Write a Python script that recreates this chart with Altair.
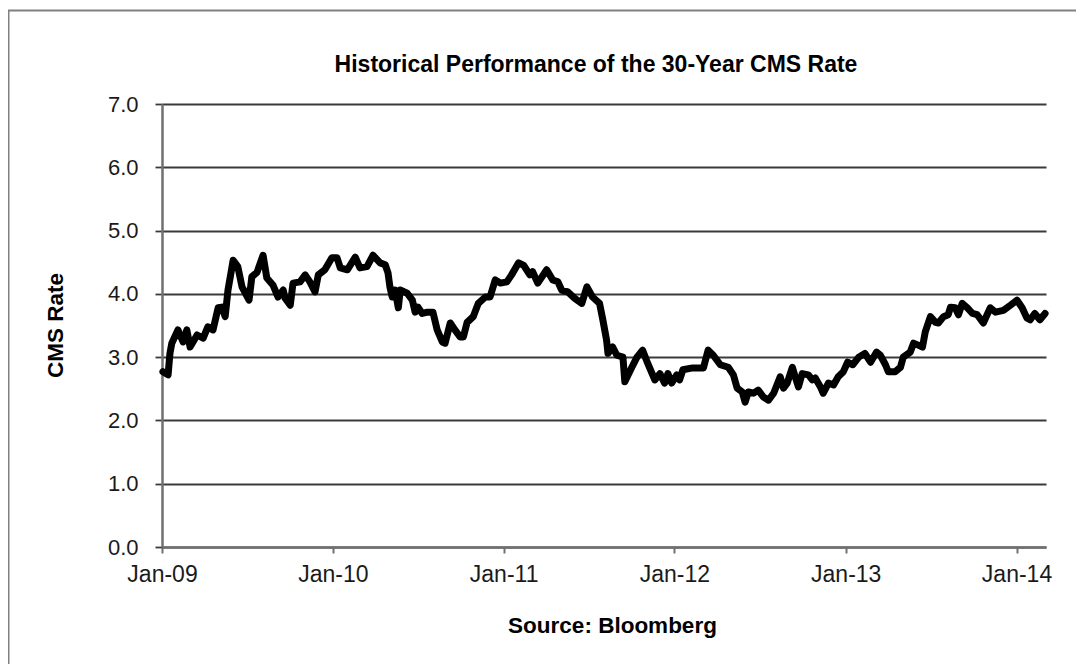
import altair as alt
import pandas as pd

# ---- data ----
dates = [
    "2009-01-03", "2009-01-14", "2009-01-18", "2009-01-22", "2009-02-04", "2009-02-15",
    "2009-02-23", "2009-03-02", "2009-03-17", "2009-03-30", "2009-04-09", "2009-04-20",
    "2009-05-01", "2009-05-09", "2009-05-16", "2009-05-22", "2009-06-02", "2009-06-12",
    "2009-06-21", "2009-07-06", "2009-07-12", "2009-07-23", "2009-08-05", "2009-08-13",
    "2009-08-26", "2009-09-06", "2009-09-17", "2009-09-21", "2009-10-02", "2009-10-08",
    "2009-10-23", "2009-11-03", "2009-11-13", "2009-11-24", "2009-12-01", "2009-12-15",
    "2009-12-30", "2010-01-10", "2010-01-17", "2010-02-01", "2010-02-18", "2010-02-28",
    "2010-03-15", "2010-03-28", "2010-04-12", "2010-04-23", "2010-04-29", "2010-05-03",
    "2010-05-08", "2010-05-14", "2010-05-21", "2010-05-25", "2010-06-09", "2010-06-20",
    "2010-06-26", "2010-07-02", "2010-07-11", "2010-07-22", "2010-08-03", "2010-08-12",
    "2010-08-23", "2010-08-29", "2010-09-09", "2010-09-19", "2010-09-30", "2010-10-07",
    "2010-10-15", "2010-10-28", "2010-11-08", "2010-11-23", "2010-12-03", "2010-12-14",
    "2010-12-25", "2011-01-08", "2011-01-18", "2011-02-02", "2011-02-13", "2011-02-26",
    "2011-03-04", "2011-03-15", "2011-04-03", "2011-04-16", "2011-04-27", "2011-05-05",
    "2011-05-18", "2011-06-02", "2011-06-17", "2011-06-28", "2011-07-10", "2011-07-25",
    "2011-08-01", "2011-08-09", "2011-08-12", "2011-08-22", "2011-08-31", "2011-09-13",
    "2011-09-17", "2011-10-02", "2011-10-13", "2011-10-25", "2011-11-05", "2011-11-20",
    "2011-12-01", "2011-12-11", "2011-12-18", "2011-12-26", "2012-01-06", "2012-01-12",
    "2012-01-19", "2012-02-09", "2012-03-03", "2012-03-13", "2012-03-24", "2012-04-08",
    "2012-04-25", "2012-05-06", "2012-05-14", "2012-05-25", "2012-05-31", "2012-06-07",
    "2012-06-18", "2012-06-28", "2012-07-09", "2012-07-20", "2012-07-31", "2012-08-14",
    "2012-08-21", "2012-08-29", "2012-09-09", "2012-09-15", "2012-09-22", "2012-09-30",
    "2012-10-13", "2012-10-22", "2012-10-28", "2012-11-08", "2012-11-14", "2012-11-25",
    "2012-12-06", "2012-12-16", "2012-12-27", "2013-01-05", "2013-01-16", "2013-01-29",
    "2013-02-11", "2013-02-23", "2013-03-08", "2013-03-16", "2013-03-27", "2013-04-02",
    "2013-04-17", "2013-04-28", "2013-05-04", "2013-05-19", "2013-05-26", "2013-06-05",
    "2013-06-14", "2013-06-20", "2013-07-01", "2013-07-12", "2013-07-18", "2013-07-29",
    "2013-08-08", "2013-08-13", "2013-08-23", "2013-08-30", "2013-09-07", "2013-09-18",
    "2013-09-29", "2013-10-09", "2013-10-22", "2013-11-06", "2013-11-17", "2013-12-04",
    "2013-12-19", "2014-01-02", "2014-01-13", "2014-01-23", "2014-01-30", "2014-02-09",
    "2014-02-20", "2014-03-03",
]

cms_rate = [
    2.77, 2.72, 3.06, 3.22, 3.43, 3.24,
    3.43, 3.16, 3.35, 3.30, 3.48, 3.43,
    3.78, 3.79, 3.64, 4.06, 4.53, 4.43,
    4.11, 3.90, 4.27, 4.34, 4.61, 4.25,
    4.14, 3.95, 4.06, 3.93, 3.82, 4.17,
    4.19, 4.30, 4.19, 4.03, 4.30, 4.38,
    4.57, 4.57, 4.41, 4.38, 4.58, 4.41,
    4.43, 4.61, 4.49, 4.46, 4.33, 4.11,
    3.95, 4.06, 3.78, 4.06, 4.01, 3.90,
    3.71, 3.79, 3.69, 3.71, 3.71, 3.43,
    3.24, 3.22, 3.54, 3.43, 3.32, 3.32,
    3.55, 3.64, 3.85, 3.95, 3.95, 4.22,
    4.17, 4.19, 4.30, 4.49, 4.45, 4.30,
    4.35, 4.17, 4.38, 4.22, 4.19, 4.06,
    4.03, 3.93, 3.85, 4.11, 3.95, 3.85,
    3.59, 3.27, 3.06, 3.16, 3.03, 3.00,
    2.61, 2.84, 3.00, 3.11, 2.90, 2.64,
    2.74, 2.59, 2.74, 2.59, 2.72, 2.64,
    2.80, 2.83, 2.83, 3.11, 3.03, 2.88,
    2.84, 2.72, 2.51, 2.45, 2.29, 2.45,
    2.43, 2.48, 2.37, 2.32, 2.43, 2.69,
    2.51, 2.59, 2.84, 2.69, 2.53, 2.74,
    2.72, 2.64, 2.67, 2.53, 2.43, 2.59,
    2.56, 2.69, 2.77, 2.92, 2.88, 3.00,
    3.06, 2.92, 3.08, 3.03, 2.88, 2.77,
    2.77, 2.84, 3.00, 3.08, 3.22, 3.19,
    3.16, 3.40, 3.64, 3.55, 3.54, 3.64,
    3.67, 3.79, 3.78, 3.67, 3.85, 3.78,
    3.69, 3.67, 3.54, 3.78, 3.71, 3.74,
    3.82, 3.90, 3.78, 3.62, 3.59, 3.69,
    3.59, 3.69,
]

tick_years = [2009, 2010, 2011, 2012, 2013, 2014]
y_ticks = [0, 1, 2, 3, 4, 5, 6, 7]

title_text = "Historical Performance of the 30-Year CMS Rate"
y_title = "CMS Rate"
x_title = "Source: Bloomberg"

df = pd.DataFrame({"date": dates, "rate": cms_rate})

FONT = "Liberation Sans"

x_axis = alt.Axis(
    values=[alt.DateTime(year=y, month=1, date=1) for y in tick_years],
    format="%b-%y",
    grid=False,
    domainColor="#707070",
    domainWidth=2.5,
    tickColor="#707070",
    tickWidth=2,
    tickSize=6,
    labelFont=FONT,
    labelFontSize=23,
    labelColor="#1a1a1a",
    labelPadding=10,
    labelFlush=False,
    labelOverlap=False,
    title=x_title,
    titleFont=FONT,
    titleFontSize=22.5,
    titleFontWeight="bold",
    titleColor="#000000",
    titleX=450,
    titleY=78,
    titleAlign="center",
    titleBaseline="middle",
)

y_axis = alt.Axis(
    values=y_ticks,
    format=".1f",
    grid=True,
    gridColor="#3a3a3a",
    gridWidth=1.8,
    domainColor="#707070",
    domainWidth=2.5,
    tickColor="#3a3a3a",
    tickWidth=1.8,
    tickSize=7,
    labelFont=FONT,
    labelFontSize=22,
    labelColor="#1a1a1a",
    labelPadding=17,
    title=y_title,
    titleFont=FONT,
    titleFontSize=22.5,
    titleFontWeight="bold",
    titleColor="#000000",
    titleAngle=270,
    titleX=-107,
    titleY=221,
    titleAlign="center",
    titleBaseline="middle",
)

line = alt.Chart(df).mark_line(
    color="#000000", strokeWidth=7, strokeJoin="round", strokeCap="round"
).encode(
    x=alt.X(
        "date:T",
        axis=x_axis,
        scale=alt.Scale(
            domain=[alt.DateTime(year=2009, month=1, date=1),
                    alt.DateTime(year=2014, month=3, date=5)]
        ),
    ),
    y=alt.Y("rate:Q", axis=y_axis, scale=alt.Scale(domain=[0, 7], nice=False)),
)

frame = alt.Chart(alt.Data(values=[{}])).mark_rect(
    filled=False, stroke="#808080", strokeWidth=2
).encode(
    x=alt.value(-153.5), x2=alt.value(960), y=alt.value(-93.5), y2=alt.value(620)
)

chart = alt.layer(frame, line).properties(
    width=884,
    height=443,
    padding={"left": 154, "top": 96, "right": 30, "bottom": 117},
    autosize=alt.AutoSizeParams(type="none"),
    background="#ffffff",
    title=alt.TitleParams(
        text=title_text,
        font=FONT,
        fontSize=23,
        fontWeight="bold",
        color="#000000",
        anchor="middle",
        frame="group",
        dx=-8,
        offset=-67,
    ),
).configure_view(strokeWidth=0)

chart.save("out.html", embed_options={"renderer": "svg", "actions": False})
